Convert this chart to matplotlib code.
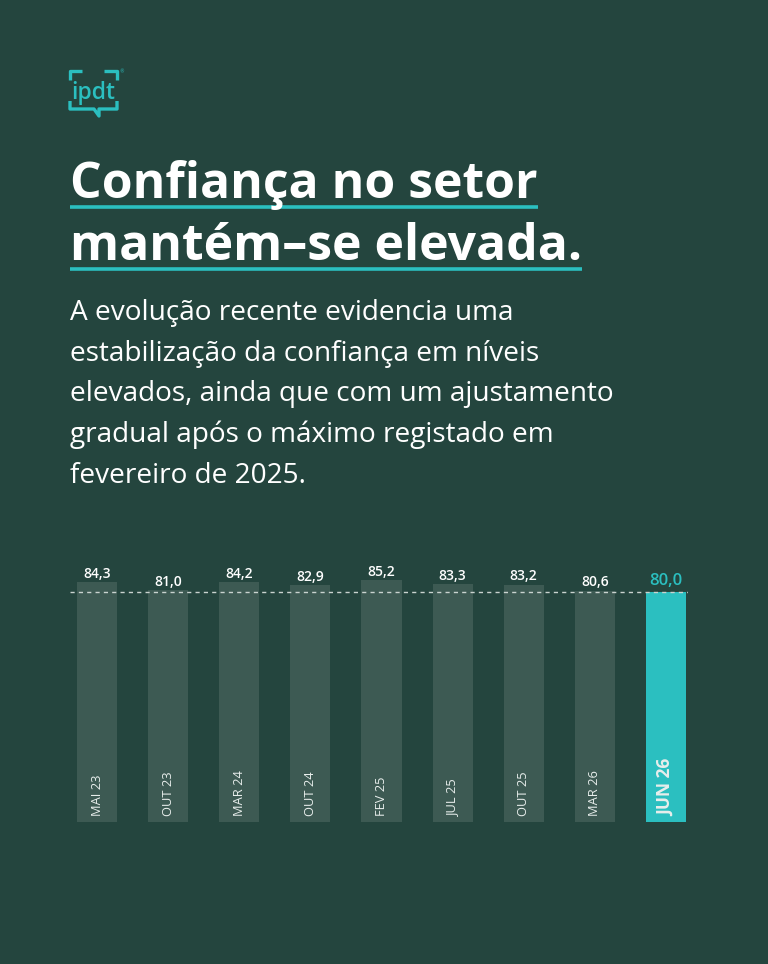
import matplotlib
matplotlib.use('Agg')
import matplotlib.pyplot as plt

# data ------------------------------------------------------------------------
periods = ['MAI 23', 'OUT 23', 'MAR 24', 'OUT 24', 'FEV 25', 'JUL 25', 'OUT 25', 'MAR 26', 'JUN 26']
confidence = [84.3, 81.0, 84.2, 82.9, 85.2, 83.3, 83.2, 80.6, 80.0]

title_lines = ['Confiança no setor', 'mantém–se elevada.']
subtitle_lines = ['A evolução recente evidencia uma',
                  'estabilização da confiança em níveis',
                  'elevados, ainda que com um ajustamento',
                  'gradual após o máximo registado em',
                  'fevereiro de 2025.']

BG = '#24453e'
BAR = '#3d5a53'
TEAL = '#2bbfc0'
BASE = -20  # axis baseline the bars grow from
FONT = 'Open Sans'

W, H = 768, 964
fig = plt.figure(figsize=(W / 100, H / 100), dpi=100, facecolor=BG)
renderer = fig.canvas.get_renderer()

# overlay in pixel coordinates for logo / titles
deco = fig.add_axes([0, 0, 1, 1])
deco.set_xlim(0, W)
deco.set_ylim(H, 0)
deco.axis('off')
deco.patch.set_alpha(0)


def fit(texts, width_px):
    # rescale a block of text objects so its widest line is width_px wide
    widest = max(t.get_window_extent(renderer).width for t in texts)
    for t in texts:
        t.set_fontsize(t.get_fontsize() * width_px / widest)


# logo
lw_logo = 2.4
deco.plot([70, 70, 82], [80, 71, 71], color=TEAL, lw=lw_logo, solid_capstyle='butt')
deco.plot([104, 117, 117], [71, 71, 80], color=TEAL, lw=lw_logo, solid_capstyle='butt')
deco.plot([70, 70, 94, 99, 99, 102, 117, 117], [101, 109, 109, 116, 109, 109, 109, 101],
          color=TEAL, lw=lw_logo, solid_capstyle='butt')
logo = deco.text(71, 99, 'ipdt', color=TEAL, fontsize=15, family=FONT, weight='semibold', va='baseline')
fit([logo], 44)
deco.text(119, 72, '®', color=TEAL, fontsize=3.5, va='center')

# title with teal underline
title_base = [198, 260]
title_texts = [deco.text(70, yb, line, color='white', fontsize=33, family=FONT, weight='bold',
                         va='baseline') for line, yb in zip(title_lines, title_base)]
fit(title_texts, 513)

inv = deco.transData.inverted()
for t, yb in zip(title_texts, title_base):
    bb = t.get_window_extent(renderer)
    x1 = inv.transform((bb.x1, bb.y0))[0]
    deco.plot([70, x1], [yb + 9, yb + 9], color=TEAL, lw=2.6, solid_capstyle='butt')

# subtitle
sub_texts = [deco.text(70, 320 + i * 40.7, line, color='white', fontsize=17, family=FONT, va='baseline')
             for i, line in enumerate(subtitle_lines)]
fit(sub_texts, 545)

# chart -----------------------------------------------------------------------
ax = fig.add_axes([70 / W, (H - 822) / H, 618 / W, 272 / H])
ax.patch.set_alpha(0)
x = list(range(len(periods)))
colors = [BAR] * (len(periods) - 1) + [TEAL]
ax.bar(x, [v - BASE for v in confidence], bottom=BASE, width=0.565, color=colors, zorder=2)
ax.axhline(confidence[-1], color='#c9d3cf', lw=1, ls=(0, (3, 3)), zorder=3)
ax.set_xlim(-0.38, 8.31)
ax.set_ylim(BASE, BASE + 272 / 2.3)
ax.axis('off')

for i, (p, v) in enumerate(zip(periods, confidence)):
    label = f'{v:.1f}'.replace('.', ',')
    last = i == len(periods) - 1
    ax.annotate(label, (i, v), xytext=(0, 5 if last else 3), textcoords='offset points',
                ha='center', va='baseline', color=TEAL if last else 'white',
                fontsize=12 if last else 10, family=FONT, weight='semibold')
    ax.annotate(p, (i, BASE), xytext=(0, 4), textcoords='offset points', rotation=90,
                ha='center', va='bottom', color='#e8eeec',
                fontsize=12.5 if last else 9.3, family=FONT,
                weight='bold' if last else 'normal')

fig.savefig('out.png', dpi=100, facecolor=BG)
